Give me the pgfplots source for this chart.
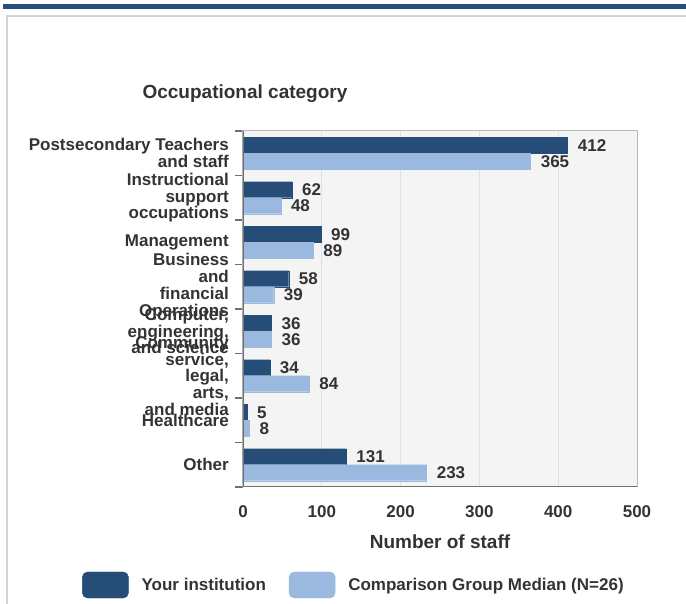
\documentclass[border=0pt]{standalone}
\usepackage{fontspec}
\setmainfont{Liberation Sans}
\usepackage{pgfplots}
\pgfplotsset{compat=1.18}
\definecolor{darkbar}{HTML}{264D78}
\definecolor{lightbar}{HTML}{9BB9DE}
\definecolor{txt}{HTML}{333333}
\definecolor{plotbg}{HTML}{F4F4F4}
\definecolor{gridc}{HTML}{D9E2EF}
\definecolor{framec}{HTML}{D3D3D3}
\definecolor{axisc}{HTML}{707070}
\definecolor{rimc}{HTML}{B8B8B8}
\definecolor{topbar}{HTML}{264F7C}
\newcommand{\lbl}{\fontsize{17}{16.8}\selectfont\bfseries}
\newcommand{\titlefont}{\fontsize{19}{21}\selectfont\bfseries}
\begin{document}
\begin{tikzpicture}[x=1pt,y=1pt]
\useasboundingbox (0,0) rectangle (686,604);
\fill[topbar] (3,595) rectangle (686,600);
\draw[framec, line width=2pt] (7,0) -- (7,588) -- (686,588);
\node[font=\titlefont, text=txt] at (245,510) {Occupational category};
\begin{axis}[
  at={(243pt,117pt)}, anchor=south west, scale only axis,
  width=394pt, height=356pt,
  xmin=0, xmax=500, ymin=-0.5, ymax=7.5,
  xtick={0,100,...,500},
  ytick={0,...,7},
  yticklabels={Other, Healthcare, {Community\\service,\\legal,\\arts,\\and media}, {Computer,\\engineering,\\and science}, {Business\\and\\financial\\Operations}, Management, {Instructional\\support\\occupations}, {Postsecondary Teachers\\and staff}},
  minor ytick={-0.5,0.5,...,7.5},
  major tick length=0pt, minor tick length=8pt, tick align=outside,
  ytick pos=left, xtick pos=bottom,
  minor tick style={draw=axisc, line width=1.5pt},
  /pgf/number format/assume math mode=true,
  axis background/.style={fill=plotbg},
  xmajorgrids, major grid style={draw=gridc, line width=1pt},
  axis line style={draw=rimc, line width=1pt},
  xticklabel style={font=\lbl, text=txt, anchor=center, inner sep=0pt, yshift=-25pt},
  yticklabel style={font=\lbl, text=txt, align=right, anchor=east, inner sep=0pt, xshift=-14pt},
  xlabel={Number of staff},
  xlabel style={at={(rel axis cs:0.5,0)}, anchor=center, yshift=-55pt, font=\titlefont, text=txt},
  every node near coord/.append style={font=\lbl, text=txt, anchor=west, inner sep=0pt, xshift=10pt},
  legend style={at={(-0.4086,-0.2753)}, anchor=west, draw=none, fill=none, legend columns=2,
    font=\lbl, text=txt, inner sep=0pt,
    /tikz/every odd column/.append style={column sep=11pt},
    /tikz/every even column/.append style={column sep=21pt}},
  legend cell align=left,
]
\addplot[xbar, bar width=16pt, bar shift=8pt, fill=darkbar, draw=darkbar, nodes near coords,
  every node near coord/.append style={yshift=8pt},
  legend image code/.code={\draw[fill=darkbar, draw=darkbar, rounded corners=5pt] (0pt,-13pt) rectangle (46pt,13pt);}]
  coordinates {(131,0) (5,1) (34,2) (36,3) (58,4) (99,5) (62,6) (412,7)};
\addlegendentry{Your institution}
\addplot[xbar, bar width=16pt, bar shift=-8pt, fill=lightbar, draw=lightbar, nodes near coords,
  every node near coord/.append style={yshift=-8pt},
  legend image code/.code={\draw[fill=lightbar, draw=lightbar, rounded corners=5pt] (0pt,-13pt) rectangle (46pt,13pt);}]
  coordinates {(233,0) (8,1) (84,2) (36,3) (39,4) (89,5) (48,6) (365,7)};
\addlegendentry{Comparison Group Median (N=26)}
\draw[axisc, line width=2pt] (rel axis cs:0,1) -- (rel axis cs:0,0) -- (rel axis cs:1,0);
\end{axis}
\end{tikzpicture}
\end{document}
